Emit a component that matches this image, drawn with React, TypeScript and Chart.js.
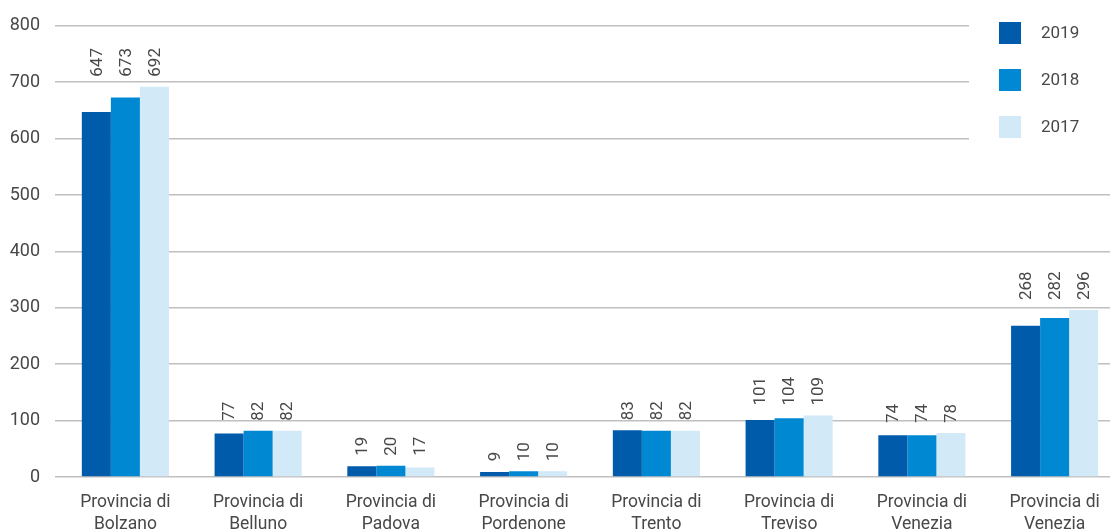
import React, { useEffect, useRef } from "react";
import { Chart, registerables } from "chart.js";

Chart.register(...registerables);

const categories: string[][] = [
  ["Provincia di", "Bolzano"],
  ["Provincia di", "Belluno"],
  ["Provincia di", "Padova"],
  ["Provincia di", "Pordenone"],
  ["Provincia di", "Trento"],
  ["Provincia di", "Treviso"],
  ["Provincia di", "Venezia"],
  ["Provincia di", "Venezia"],
];

const seriesLabels = ["2019", "2018", "2017"];
const values2019 = [647, 77, 19, 9, 83, 101, 74, 268];
const values2018 = [673, 82, 20, 10, 82, 104, 74, 282];
const values2017 = [692, 82, 17, 10, 82, 109, 78, 296];
const yTicks = [0, 100, 200, 300, 400, 500, 600, 700, 800];

const colors = ["#005baa", "#0088d2", "#d2e9f8"];
const textColor = "#484848";
const gridColor = "#c0c0c0";
const fontFamily = "Roboto, 'Noto Sans', sans-serif";

const labelsPlugin = {
  id: "barLabels",
  afterDatasetsDraw(chart: any) {
    const ctx = chart.ctx;
    const n = chart.data.labels.length;
    ctx.save();
    ctx.font = `17px ${fontFamily}`;
    ctx.fillStyle = textColor;
    ctx.textAlign = "left";
    ctx.textBaseline = "middle";
    for (let i = 0; i < n; i++) {
      let minY = Infinity;
      chart.data.datasets.forEach((_: any, d: number) => {
        const el = chart.getDatasetMeta(d).data[i];
        if (el && el.y < minY) minY = el.y;
      });
      chart.data.datasets.forEach((ds: any, d: number) => {
        const el = chart.getDatasetMeta(d).data[i];
        if (!el) return;
        ctx.save();
        ctx.translate(el.x + 1, minY - 10);
        ctx.rotate(-Math.PI / 2);
        ctx.fillText(String(ds.data[i]), 0, 0);
        ctx.restore();
      });
    }
    ctx.restore();
  },
  afterDraw(chart: any) {
    const ctx = chart.ctx;
    ctx.save();
    ctx.fillStyle = "#ffffff";
    ctx.fillRect(969, 0, 200, 162);
    ctx.font = `17px ${fontFamily}`;
    ctx.textAlign = "left";
    ctx.textBaseline = "middle";
    chart.data.datasets.forEach((ds: any, d: number) => {
      const cy = 33 + d * 47;
      ctx.fillStyle = ds.backgroundColor;
      ctx.fillRect(999, cy - 11, 22, 22);
      ctx.fillStyle = textColor;
      ctx.fillText(ds.label, 1041, cy + 1);
    });
    ctx.restore();
  },
};

export default function App() {
  const ref = useRef<HTMLCanvasElement | null>(null);
  useEffect(() => {
    if (!ref.current) return;
    const chart = new Chart(ref.current, {
      type: "bar",
      data: {
        labels: categories,
        datasets: [values2019, values2018, values2017].map((v, i) => ({
          label: seriesLabels[i],
          data: v,
          backgroundColor: colors[i],
          borderWidth: 0,
          barPercentage: 1,
          categoryPercentage: 0.656,
        })),
      },
      options: {
        animation: false,
        responsive: false,
        maintainAspectRatio: false,
        layout: { padding: { top: 23, left: 0, right: 0, bottom: 0 } },
        plugins: {
          legend: { display: false },
          tooltip: { enabled: false },
        },
        scales: {
          x: {
            grid: { display: false },
            border: { display: false },
            ticks: {
              color: textColor,
              font: { family: fontFamily, size: 17.5, lineHeight: 1.25 },
              padding: 7,
              maxRotation: 0,
              autoSkip: false,
            },
            afterFit: (scale: any) => {
              scale.height = 52;
            },
          },
          y: {
            min: 0,
            max: 800,
            afterBuildTicks: (scale: any) => {
              scale.ticks = yTicks.map((v) => ({ value: v }));
            },
            grid: {
              color: gridColor,
              lineWidth: 1.5,
              drawTicks: true,
              tickLength: 4,
              tickColor: gridColor,
            },
            border: { display: false },
            ticks: {
              color: textColor,
              font: { family: fontFamily, size: 18 },
              padding: 15,
            },
            afterFit: (scale: any) => {
              scale.width = 59;
            },
          },
        },
      },
      plugins: [labelsPlugin],
    });
    return () => chart.destroy();
  }, []);
  return (
    <div
      style={{
        position: "fixed",
        left: 0,
        top: 0,
        width: 1110,
        height: 529,
        overflow: "hidden",
        background: "#fff",
      }}
    >
      <canvas ref={ref} width={1121} height={529} style={{ display: "block" }} />
    </div>
  );
}
